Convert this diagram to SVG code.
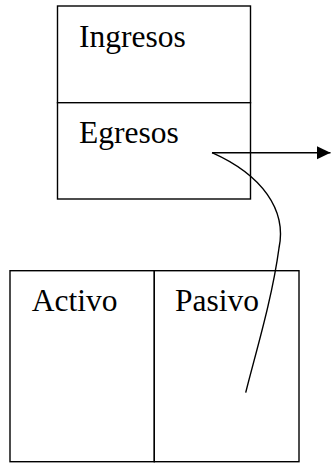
<svg xmlns="http://www.w3.org/2000/svg" width="331" height="463" viewBox="0 0 331 463">
<style>
.box{fill:#fff;stroke:#000;stroke-width:1.4}
.t{font-family:"Liberation Serif","Times New Roman",serif;font-size:31.5px;fill:#000}
.c{fill:none;stroke:#000;stroke-width:1.4}
</style>
<defs>
<marker id="ah" markerWidth="15" markerHeight="14" refX="14" refY="7" orient="auto" markerUnits="userSpaceOnUse">
<path d="M0,0.3 L14,7 L0,13.7 Z" fill="#000"/>
</marker>
</defs>
<g id="ingresos">
<rect class="box" x="57.5" y="6" width="193" height="96.7"/>
<text class="t" x="79" y="46.7">Ingresos</text>
</g>
<g id="egresos">
<rect class="box" x="57.5" y="102.7" width="193" height="96.3"/>
<text class="t" x="79" y="143.3">Egresos</text>
</g>
<g id="activo">
<rect class="box" x="10" y="270.7" width="144.3" height="191"/>
<text class="t" x="31.7" y="311">Activo</text>
</g>
<g id="pasivo">
<rect class="box" x="154.3" y="270.7" width="144.7" height="191"/>
<text class="t" x="175" y="311">Pasivo</text>
</g>
<g id="connectors">
<path class="c" d="M212,152.7 L330.5,152.7" marker-end="url(#ah)"/>
<path class="c" d="M212,152.7 C262,175 287,210 279,248 C272,300 255,355 245.7,392.7"/>
</g>
</svg>
